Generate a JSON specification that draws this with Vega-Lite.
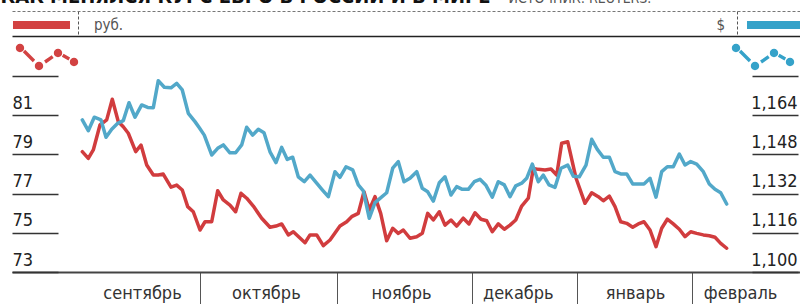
{
  "$schema": "https://vega.github.io/schema/vega-lite/v6.json",
  "width": 788,
  "height": 261,
  "padding": {"left": 12, "top": 11, "right": 0, "bottom": 32},
  "autosize": {"type": "none"},
  "background": "white",
  "config": {"view": {"stroke": null}},
  "datasets": {
    "rub": [
      {"t":0,"v":79.13},{"t":1.05,"v":78.79},{"t":1.93,"v":79.22},{"t":3.1,"v":80.49},{"t":4.28,"v":80.75},{"t":5.26,"v":81.8},{"t":6.32,"v":80.66},{"t":7.19,"v":80.4},{"t":8.07,"v":80.07},{"t":9.37,"v":79.13},{"t":10.3,"v":79.47},{"t":11.3,"v":78.45},{"t":12.46,"v":77.94},{"t":13.33,"v":77.94},{"t":14.2,"v":77.99},{"t":15.56,"v":77.32},{"t":16.56,"v":77.43},{"t":17.54,"v":77.18},{"t":18.49,"v":76.33},{"t":19.47,"v":76.07},{"t":20.65,"v":75.14},{"t":21.53,"v":75.56},{"t":22.7,"v":75.56},{"t":23.75,"v":77.14},{"t":24.74,"v":76.67},{"t":25.9,"v":76.41},{"t":26.9,"v":76.07},{"t":27.84,"v":77.01},{"t":28.84,"v":76.76},{"t":30.0,"v":76.36},{"t":31.47,"v":75.74},{"t":32.93,"v":75.28},{"t":33.98,"v":75.34},{"t":34.98,"v":75.45},{"t":36.14,"v":74.89},{"t":37.02,"v":75.05},{"t":38.0,"v":74.78},{"t":39.07,"v":74.49},{"t":39.95,"v":74.89},{"t":41.12,"v":74.89},{"t":42.28,"v":74.34},{"t":43.46,"v":74.63},{"t":44.33,"v":74.99},{"t":45.2,"v":75.34},{"t":46.39,"v":75.56},{"t":47.26,"v":75.82},{"t":48.42,"v":75.99},{"t":49.42,"v":77.09},{"t":50.35,"v":76.16},{"t":51.35,"v":76.84},{"t":52.35,"v":75.99},{"t":53.4,"v":74.59},{"t":54.46,"v":75.23},{"t":55.44,"v":74.97},{"t":56.32,"v":75.14},{"t":57.49,"v":74.72},{"t":58.67,"v":74.8},{"t":59.65,"v":74.97},{"t":60.6,"v":75.99},{"t":61.58,"v":75.65},{"t":62.63,"v":76.07},{"t":63.63,"v":75.39},{"t":64.68,"v":75.65},{"t":65.68,"v":75.34},{"t":66.84,"v":75.74},{"t":67.84,"v":75.45},{"t":68.89,"v":76.02},{"t":69.95,"v":75.69},{"t":70.95,"v":75.61},{"t":71.93,"v":75.05},{"t":72.98,"v":75.45},{"t":74.04,"v":75.18},{"t":75.04,"v":75.39},{"t":76.04,"v":75.65},{"t":77.09,"v":76.36},{"t":78.25,"v":76.76},{"t":79.12,"v":78.28},{"t":80.0,"v":78.23},{"t":81.18,"v":78.2},{"t":82.23,"v":78.25},{"t":83.23,"v":77.94},{"t":84.1,"v":79.56},{"t":85.16,"v":79.64},{"t":86.61,"v":77.79},{"t":88.19,"v":76.5},{"t":89.37,"v":77.04},{"t":90.53,"v":76.84},{"t":91.4,"v":76.63},{"t":92.46,"v":76.87},{"t":93.46,"v":76.33},{"t":94.46,"v":75.56},{"t":95.51,"v":75.48},{"t":96.56,"v":75.28},{"t":97.54,"v":75.45},{"t":98.54,"v":75.56},{"t":99.6,"v":75.14},{"t":100.65,"v":74.29},{"t":101.65,"v":75.23},{"t":102.63,"v":75.69},{"t":103.68,"v":75.45},{"t":104.74,"v":75.18},{"t":105.74,"v":74.8},{"t":106.74,"v":75.05},{"t":107.79,"v":74.97},{"t":108.95,"v":74.89},{"t":110.0,"v":74.85},{"t":111.0,"v":74.77},{"t":112.0,"v":74.46},{"t":113.05,"v":74.21}
    ],
    "usd": [
      {"t":0,"v":1.162},{"t":1.05,"v":1.1576},{"t":2.1,"v":1.1631},{"t":3.28,"v":1.162},{"t":4.16,"v":1.1549},{"t":5.16,"v":1.1582},{"t":6.21,"v":1.1606},{"t":7.19,"v":1.1617},{"t":8.19,"v":1.169},{"t":9.25,"v":1.1631},{"t":10.42,"v":1.1681},{"t":11.47,"v":1.1671},{"t":12.46,"v":1.167},{"t":13.33,"v":1.178},{"t":14.39,"v":1.1753},{"t":15.56,"v":1.1751},{"t":16.56,"v":1.1769},{"t":17.54,"v":1.1742},{"t":18.6,"v":1.1647},{"t":19.77,"v":1.1613},{"t":20.56,"v":1.1587},{"t":21.4,"v":1.1558},{"t":22.7,"v":1.1477},{"t":23.75,"v":1.1504},{"t":24.74,"v":1.1518},{"t":25.9,"v":1.1486},{"t":26.9,"v":1.1486},{"t":27.96,"v":1.1518},{"t":28.84,"v":1.159},{"t":29.89,"v":1.1558},{"t":30.88,"v":1.1582},{"t":31.88,"v":1.1568},{"t":32.93,"v":1.149},{"t":33.98,"v":1.1446},{"t":34.98,"v":1.1508},{"t":35.96,"v":1.1459},{"t":36.91,"v":1.1468},{"t":37.89,"v":1.1388},{"t":38.95,"v":1.1368},{"t":39.95,"v":1.1395},{"t":41.12,"v":1.1362},{"t":42.14,"v":1.1334},{"t":43.16,"v":1.1307},{"t":44.33,"v":1.1409},{"t":45.2,"v":1.1386},{"t":46.26,"v":1.1429},{"t":47.44,"v":1.1416},{"t":48.42,"v":1.1355},{"t":49.3,"v":1.1331},{"t":50.35,"v":1.1219},{"t":51.35,"v":1.1283},{"t":52.23,"v":1.13},{"t":53.4,"v":1.1323},{"t":54.46,"v":1.1423},{"t":55.44,"v":1.145},{"t":56.44,"v":1.1368},{"t":57.49,"v":1.1382},{"t":58.67,"v":1.1409},{"t":59.65,"v":1.1341},{"t":60.6,"v":1.1327},{"t":61.58,"v":1.1289},{"t":62.63,"v":1.1364},{"t":63.63,"v":1.1388},{"t":64.68,"v":1.1314},{"t":65.68,"v":1.1348},{"t":66.67,"v":1.1337},{"t":67.72,"v":1.1337},{"t":68.77,"v":1.1368},{"t":69.77,"v":1.1378},{"t":70.77,"v":1.1355},{"t":71.93,"v":1.1305},{"t":72.98,"v":1.1368},{"t":74.04,"v":1.1355},{"t":75.04,"v":1.1307},{"t":76.04,"v":1.1351},{"t":77.09,"v":1.1362},{"t":77.96,"v":1.1382},{"t":78.95,"v":1.144},{"t":80.0,"v":1.1368},{"t":80.88,"v":1.1395},{"t":81.88,"v":1.1355},{"t":82.93,"v":1.1345},{"t":83.98,"v":1.1423},{"t":85.16,"v":1.1436},{"t":86.14,"v":1.139},{"t":87.19,"v":1.1388},{"t":88.37,"v":1.1436},{"t":89.37,"v":1.1541},{"t":90.35,"v":1.15},{"t":91.4,"v":1.1468},{"t":92.46,"v":1.1468},{"t":93.46,"v":1.1409},{"t":94.46,"v":1.14},{"t":95.51,"v":1.14},{"t":96.56,"v":1.1359},{"t":97.54,"v":1.1359},{"t":98.54,"v":1.1359},{"t":99.6,"v":1.1382},{"t":100.65,"v":1.1305},{"t":101.65,"v":1.1409},{"t":102.63,"v":1.1429},{"t":103.68,"v":1.1429},{"t":104.74,"v":1.1481},{"t":105.74,"v":1.1436},{"t":106.74,"v":1.145},{"t":107.79,"v":1.144},{"t":108.95,"v":1.1409},{"t":110.0,"v":1.1359},{"t":111.0,"v":1.1337},{"t":112.0,"v":1.1323},{"t":113.05,"v":1.1277}
    ]
  },
  "layer": [
    {
      "data": {"name": "rub"},
      "mark": {"type": "line", "strokeWidth": 3.5, "strokeJoin": "round", "strokeCap": "round"},
      "encoding": {
        "x": {
          "field": "t", "type": "quantitative",
          "scale": {"domain": [-12.3333, 125.9123], "nice": false, "zero": false},
          "axis": {
            "orient": "bottom",
            "values": [20.65, 44.7, 68.4, 86.8, 106.96, 10.47, 32.2, 55.9, 76.4, 96.97, 115.4],
            "domainColor": "#444", "domainWidth": 2,
            "tickSize": 32, "tickColor": "#555", "tickWidth": 1,
            "tickOpacity": {"condition": {"test": "indexof([10.47, 32.2, 55.9, 76.4, 96.97, 115.4], datum.value) >= 0", "value": 0}, "value": 1},
            "labelExpr": "datum.value == 10.47 ? 'сентябрь' : datum.value == 32.2 ? 'октябрь' : datum.value == 55.9 ? 'ноябрь' : datum.value == 76.4 ? 'декабрь' : datum.value == 96.97 ? 'январь' : datum.value == 115.4 ? 'февраль' : ''",
            "labelPadding": -20, "labelBaseline": "top", "labelAlign": "center",
            "labelFontSize": 18, "labelColor": "#333",
            "labelFont": "Liberation Sans Narrow, DejaVu Sans Condensed, sans-serif",
            "labelOverlap": false, "labelFlush": false, "labelBound": false,
            "grid": false, "title": null
          }
        },
        "y": {
          "field": "v", "type": "quantitative",
          "scale": {"domain": [73, 86.2994], "nice": false, "zero": false},
          "axis": {
            "orient": "left", "offset": -46,
            "values": [73, 75, 77, 79, 81, 83, 85.0255],
            "domain": false,
            "grid": true, "gridColor": "#222", "gridWidth": 1.5,
            "gridOpacity": {"condition": {"test": "datum.value > 85", "value": 1}, "value": 0},
            "tickSize": 46, "tickColor": "#333", "tickWidth": 1.5,
            "tickOpacity": {"condition": {"test": "datum.value > 85", "value": 0}, "value": 1},
            "labelAlign": "left", "labelBaseline": "alphabetic", "labelPadding": 0, "labelOffset": -7,
            "labelFontSize": 18, "labelColor": "#222",
            "labelFont": "Liberation Sans Narrow, DejaVu Sans Condensed, sans-serif",
            "labelOverlap": false, "labelFlush": false, "labelBound": false,
            "labelExpr": "datum.value > 82 ? '' : datum.label",
            "title": "ИСТОЧНИК: REUTERS.",
            "titleX": 450, "titleY": -9, "titleAngle": 0, "titleAlign": "left", "titleBaseline": "alphabetic",
            "titleFont": "Liberation Sans Narrow, DejaVu Sans Condensed, sans-serif",
            "titleFontSize": 14, "titleFontWeight": "normal", "titleColor": "#555"
          }
        },
        "stroke": {
          "datum": "руб.",
          "scale": {"range": ["#d13c3e"]},
          "legend": {
            "orient": "none", "legendX": -2, "legendY": -1, "padding": 0, "title": null,
            "symbolType": "M-0.943,-0.714H0.686V-0.486H-0.943Z M-0.863,0.057a0.12,0.12 0 1,0 0.24,0a0.12,0.12 0 1,0 -0.24,0Z M-0.32,0.571a0.12,0.12 0 1,0 0.24,0a0.12,0.12 0 1,0 -0.24,0Z M0.223,0.2a0.12,0.12 0 1,0 0.24,0a0.12,0.12 0 1,0 -0.24,0Z M0.68,0.457a0.12,0.12 0 1,0 0.24,0a0.12,0.12 0 1,0 -0.24,0Z M-0.663,0.177L-0.377,0.463L-0.309,0.394L-0.594,0.109Z M-0.001,0.497L0.219,0.346L0.164,0.266L-0.056,0.417Z M0.453,0.308L0.642,0.414L0.689,0.329L0.501,0.223Z",
            "symbolSize": 4900,
            "labelOffset": 12,
            "labelFont": "Liberation Sans Narrow, DejaVu Sans Condensed, sans-serif",
            "labelFontSize": 15, "labelColor": "#555",
            "encode": {
              "symbols": {"update": {"fill": {"value": "#d24242"}, "strokeOpacity": {"value": 0}, "opacity": {"value": 1}}},
              "labels": {"update": {"dy": {"value": -21}}}
            }
          }
        }
      }
    },
    {
      "data": {"name": "usd"},
      "mark": {"type": "line", "strokeWidth": 3.5, "strokeJoin": "round", "strokeCap": "round"},
      "encoding": {
        "x": {
          "field": "t", "type": "quantitative",
          "scale": {"domain": [-12.3333, 125.9123], "nice": false, "zero": false},
          "axis": {
            "orient": "top",
            "values": [-0.754, 114.86],
            "domain": true, "domainColor": "#777", "domainWidth": 1, "domainDash": [3, 2],
            "ticks": true, "tickSize": -25, "tickDash": [3, 2], "tickColor": "#555", "tickWidth": 1,
            "labels": false, "grid": false,
            "title": "КАК МЕНЯЛСЯ КУРС ЕВРО В РОССИИ И В МИРЕ",
            "titleX": -12, "titleY": -9, "titleAlign": "left", "titleAnchor": "start", "titleBaseline": "alphabetic",
            "titleFont": "Liberation Sans Narrow, DejaVu Sans Condensed, sans-serif",
            "titleFontSize": 20, "titleFontWeight": "bold", "titleColor": "#111"
          }
        },
        "y": {
          "field": "v", "type": "quantitative",
          "scale": {"domain": [1.1, 1.206395], "nice": false, "zero": false},
          "axis": {
            "orient": "right", "offset": -48,
            "values": [1.1, 1.116, 1.132, 1.148, 1.164, 1.18],
            "domain": false, "grid": false,
            "tickSize": 46, "tickColor": "#333", "tickWidth": 1.5,
            "labelAlign": "right", "labelBaseline": "alphabetic", "labelPadding": -1, "labelOffset": -7,
            "labelFontSize": 18, "labelColor": "#222",
            "labelFont": "Liberation Sans Narrow, DejaVu Sans Condensed, sans-serif",
            "labelOverlap": false, "labelFlush": false, "labelBound": false,
            "labelExpr": "datum.value > 1.17 ? '' : replace(format(datum.value, '.3f'), '.', ',')",
            "title": null
          }
        },
        "color": {
          "datum": "$",
          "scale": {"range": ["#52a8c9"]},
          "legend": {
            "orient": "none", "legendX": 718, "legendY": -1, "padding": 0, "title": null,
            "symbolType": "M-0.543,-0.714H1.143V-0.486H-0.543Z M-0.977,0.057a0.12,0.12 0 1,0 0.24,0a0.12,0.12 0 1,0 -0.24,0Z M-0.434,0.571a0.12,0.12 0 1,0 0.24,0a0.12,0.12 0 1,0 -0.24,0Z M0.109,0.2a0.12,0.12 0 1,0 0.24,0a0.12,0.12 0 1,0 -0.24,0Z M0.566,0.457a0.12,0.12 0 1,0 0.24,0a0.12,0.12 0 1,0 -0.24,0Z M-0.777,0.177L-0.491,0.463L-0.423,0.394L-0.708,0.109Z M-0.115,0.497L0.105,0.346L0.05,0.266L-0.17,0.417Z M0.339,0.308L0.528,0.414L0.575,0.329L0.387,0.223Z",
            "symbolSize": 4900,
            "labelOffset": -77, "labelAlign": "right",
            "labelFont": "Liberation Sans Narrow, DejaVu Sans Condensed, sans-serif",
            "labelFontSize": 15, "labelColor": "#555",
            "encode": {
              "symbols": {"update": {"fill": {"value": "#35a2c9"}, "strokeOpacity": {"value": 0}, "opacity": {"value": 1}}},
              "labels": {"update": {"dy": {"value": -21}}}
            }
          }
        }
      }
    }
  ],
  "resolve": {
    "scale": {"y": "independent"},
    "axis": {"x": "independent", "y": "independent"}
  }
}
